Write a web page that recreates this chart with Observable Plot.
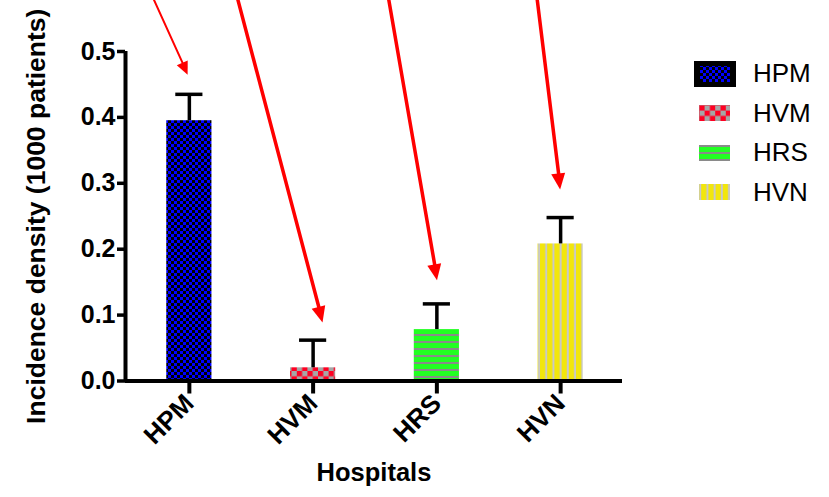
<!DOCTYPE html>
<html><head><meta charset="utf-8">
<script src="https://cdn.jsdelivr.net/npm/d3@7"></script>
<script src="https://cdn.jsdelivr.net/npm/@observablehq/plot@0.6"></script>
<style>
body{margin:0;background:#fff;font-family:"Liberation Sans",Arial,sans-serif}
#wrap{position:relative;width:829px;height:497px}
#legend{position:absolute;left:694px;top:54px}
.row{display:flex;align-items:center;height:39.5px}
.row span{font-size:26px;color:#000;margin-left:17px;font-family:"Liberation Sans",Arial,sans-serif}
</style></head><body>
<svg width="0" height="0" style="position:absolute">
<defs>
<pattern id="pat-HPM" width="6" height="6" patternUnits="userSpaceOnUse">
 <rect width="6" height="6" fill="#0000ff"/><rect width="3" height="3" fill="#000"/><rect x="3" y="3" width="3" height="3" fill="#000"/>
</pattern>
<pattern id="pat-HVM" width="10.6" height="10.6" patternUnits="userSpaceOnUse">
 <rect width="10.6" height="10.6" fill="#a6a6a6"/><rect width="5.3" height="5.3" fill="#ff0022"/><rect x="5.3" y="5.3" width="5.3" height="5.3" fill="#ff0022"/>
</pattern>
<pattern id="pat-HRS" width="7" height="7" patternUnits="userSpaceOnUse">
 <rect width="7" height="7" fill="#22ff22"/><rect y="5" width="7" height="2" fill="#8a8a8a"/>
</pattern>
<pattern id="pat-HVN" width="7.2" height="7.2" patternUnits="userSpaceOnUse">
 <rect width="7.2" height="7.2" fill="#f2e60c"/><rect x="5.2" width="2" height="7.2" fill="#c8c8c8"/>
</pattern>
</defs></svg>
<div id="wrap"><div id="legend"></div></div>
<script>
const hospitals = ["HPM", "HVM", "HRS", "HVN"];
const incidence = [0.395, 0.020, 0.078, 0.208];
const errorUpper = [0.040, 0.042, 0.039, 0.040];
const yTicks = [0, 0.1, 0.2, 0.3, 0.4, 0.5];
// annotation arrows (x in category index units, y in data units)
const arrowX1 = [-0.29, 0.39, 1.61, 2.81];
const arrowY1 = [0.58, 0.58, 0.58, 0.58];
const arrowX2 = [-0.01, 1.08, 2.005, 3.0];
const arrowY2 = [0.464, 0.088, 0.152, 0.29];

const data = hospitals.map((name, i) => ({name, i, value: incidence[i], err: errorUpper[i]}));
const arrows = arrowX1.map((x1, i) => ({x1, y1: arrowY1[i], x2: arrowX2[i], y2: arrowY2[i], thin: i === 0}));

// filled triangular arrowheads, positioned through the plot's scales
function arrowHeads(index, scales) {
  const g = d3.create("svg:g").attr("fill", "#ff0000");
  for (const a of arrows) {
    const x1 = scales.x(a.x1), y1 = scales.y(a.y1), x2 = scales.x(a.x2), y2 = scales.y(a.y2);
    const len = Math.hypot(x2 - x1, y2 - y1), ux = (x2 - x1) / len, uy = (y2 - y1) / len;
    const L = a.thin ? 13 : 16, W = a.thin ? 6 : 7;
    const bx = x2 - ux * L, by = y2 - uy * L;
    g.append("path").attr("d", `M${x2},${y2}L${bx - uy * W},${by + ux * W}L${bx + uy * W},${by - ux * W}Z`);
  }
  return g.node();
}

const chart = Plot.plot({
  width: 829, height: 497,
  marginLeft: 125, marginRight: 207, marginTop: 51, marginBottom: 116.5,
  x: {domain: [-0.516, 3.5]},
  y: {domain: [0, 0.5]},
  color: {type: "identity"},
  style: {fontFamily: "Liberation Sans, Arial, sans-serif", color: "#000", background: "#fff", overflow: "visible"},
  marks: [
    Plot.rectY(data, {x1: d => d.i - 0.5, x2: d => d.i + 0.5, y1: 0, y2: "value", fill: d => `url(#pat-${d.name})`, insetLeft: 39.3, insetRight: 39.3}),
    Plot.ruleX(data, {x: "i", y1: "value", y2: d => d.value + d.err, stroke: "#000", strokeWidth: 3.5}),
    Plot.ruleY(data, {y: d => d.value + d.err, x1: d => d.i - 0.5, x2: d => d.i + 0.5, insetLeft: 48.3, insetRight: 48.3, stroke: "#000", strokeWidth: 3.5}),
    Plot.axisY({ticks: yTicks, tickFormat: d3.format(".1f"), tickSize: 8, tickPadding: 2, strokeWidth: 3.5, fontSize: 25, fontWeight: "bold", label: null}),
    Plot.axisX({ticks: [0, 1, 2, 3], tickFormat: i => hospitals[i], tickRotate: -45, tickSize: 13, tickPadding: 5, strokeWidth: 4, fontSize: 26, fontWeight: "bold", label: null}),
    Plot.ruleY([0], {stroke: "#000", strokeWidth: 4}),
    Plot.ruleX([-0.516], {y1: 0, y2: 0.5, stroke: "#000", strokeWidth: 4}),
    Plot.text(["Incidence density (1000 patients)"], {text: d => d, frameAnchor: "left", textAnchor: "middle", rotate: -90, dx: -89, fontSize: 26.5, fontWeight: "bold"}),
    Plot.text(["Hospitals"], {text: d => d, frameAnchor: "bottom", dy: 100, fontSize: 25.5, fontWeight: "bold"}),
    Plot.arrow(arrows, {x1: "x1", y1: "y1", x2: "x2", y2: "y2", stroke: "#ff0000", strokeWidth: d => d.thin ? 2 : 3.5, headLength: 0, insetEnd: 8}),
    arrowHeads
  ]
});
const wrap = document.getElementById("wrap");
wrap.insertBefore(chart, wrap.firstChild);

// legend
const legend = d3.select("#legend");
hospitals.forEach((name, i) => {
  const row = legend.append("div").attr("class", "row");
  const sw = row.append("svg").attr("width", 42).attr("height", 26);
  if (i === 0) {
    sw.append("rect").attr("x", 0).attr("y", 0).attr("width", 42).attr("height", 26).attr("fill", "#000");
    sw.append("rect").attr("x", 6).attr("y", 5).attr("width", 30).attr("height", 16).attr("fill", `url(#pat-${name})`);
  } else {
    sw.append("rect").attr("x", 5).attr("y", 5).attr("width", 31).attr("height", 16).attr("fill", `url(#pat-${name})`);
  }
  row.append("span").text(name);
});
</script>
</body></html>
